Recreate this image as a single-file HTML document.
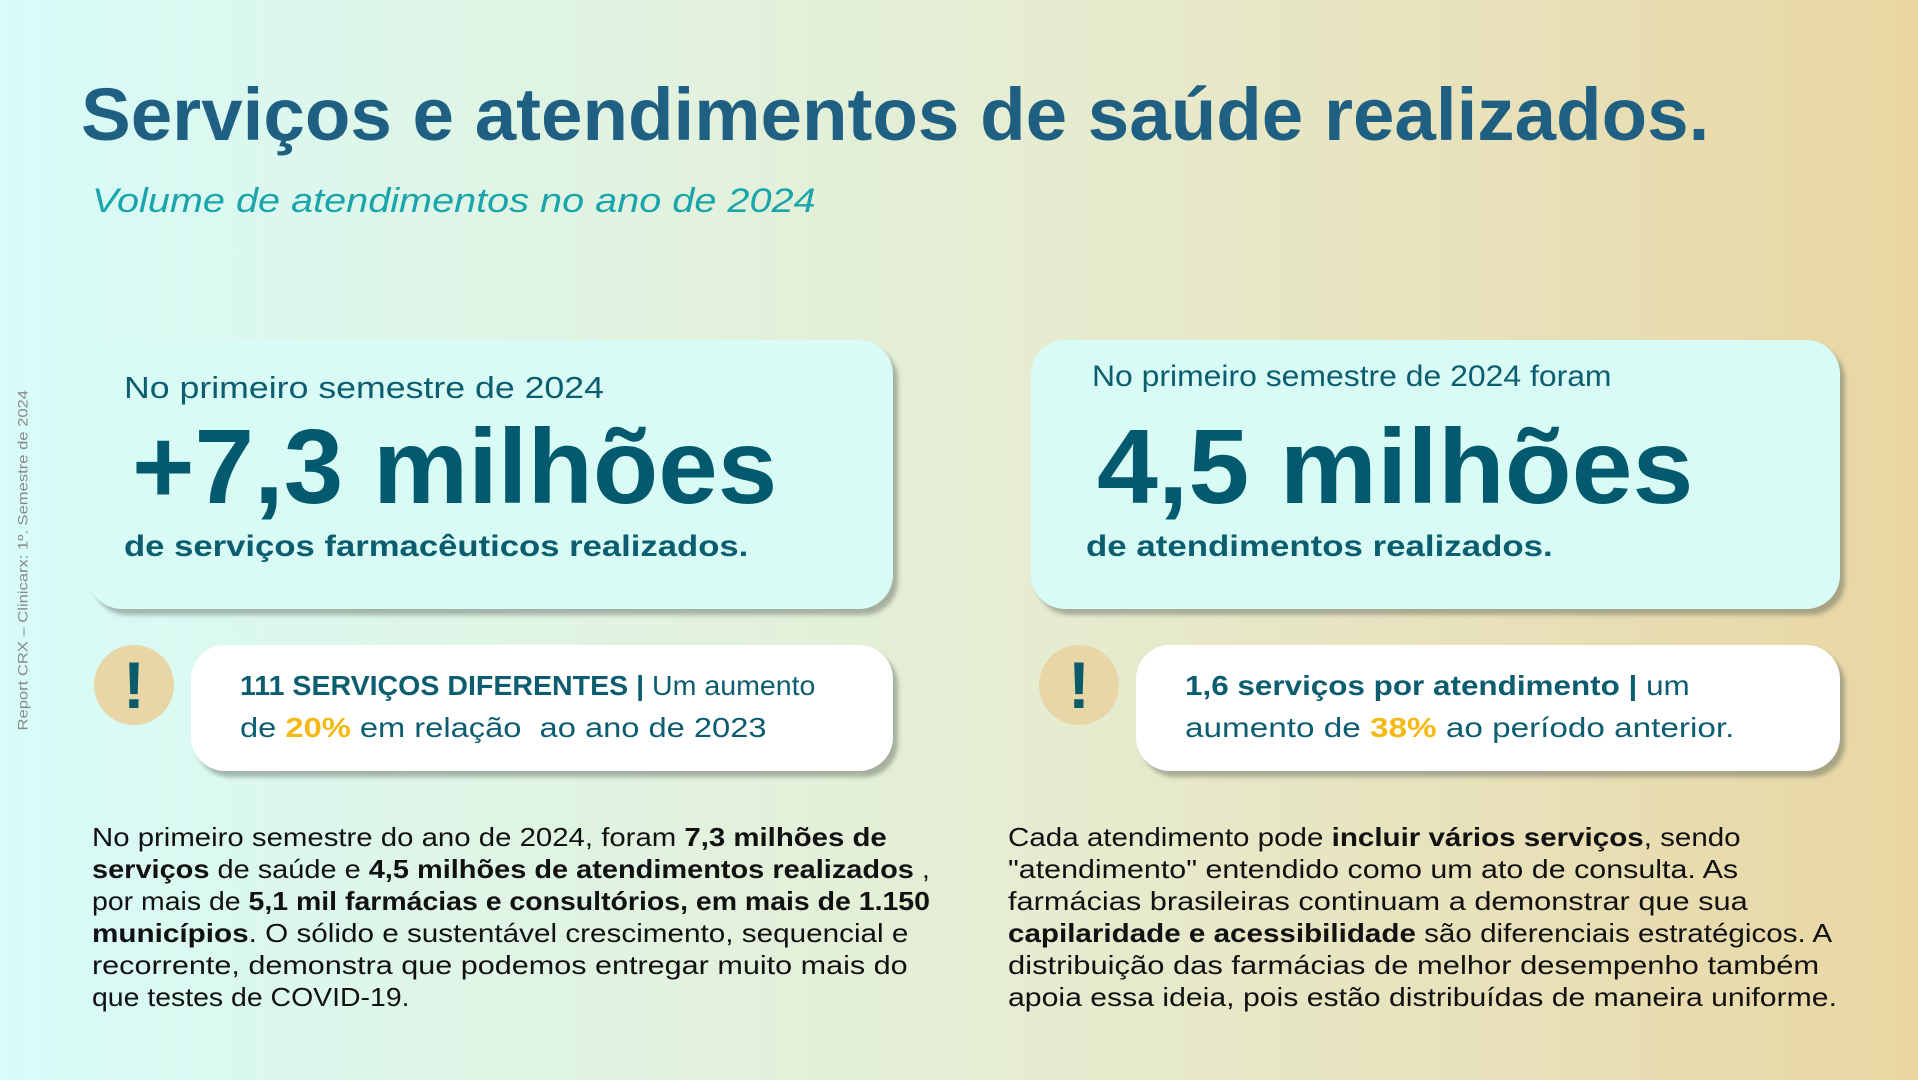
<!DOCTYPE html>
<html><head><meta charset="utf-8">
<style>
html,body{margin:0;padding:0}
body{width:1918px;height:1080px;overflow:hidden;position:relative;font-family:"Liberation Sans",sans-serif;
background:linear-gradient(90deg,#d7fcf9 0%,#dff5e6 25%,#e6ecd0 55%,#e8e0b8 80%,#e9d6a2 100%);}
.abs{position:absolute;white-space:nowrap}
.fit{display:inline-block;transform-origin:0 50%}
.card{position:absolute;background:#d8fbf6;border-radius:34px;box-shadow:5px 6px 4px rgba(90,100,90,.45)}
.wcard{position:absolute;background:#fff;border-radius:34px;box-shadow:5px 6px 4px rgba(90,100,90,.45)}
.icon{position:absolute;width:80px;height:80px;border-radius:50%;background:#e8d6a6;color:#0b5b6b;font-weight:bold;font-size:66px;text-align:center;line-height:80px}
.teal{color:#0d5d70}
.big{color:#035a6e;font-weight:bold}
.y{color:#f5b914;font-weight:bold}
.p{font-size:26px;color:#111;line-height:32px}
</style></head><body>
<div class="abs" style="left:81px;top:72px;font-size:74px;font-weight:bold;color:#1f5f82"><span class="fit" data-w="1628">Serviços e atendimentos de saúde realizados.</span></div>
<div class="abs" style="left:92px;top:182px;font-size:34px;font-style:italic;color:#1aa4ab"><span class="fit" data-w="724">Volume de atendimentos no ano de 2024</span></div>
<div class="abs" style="left:22px;top:560px;width:0;height:0">
<div style="position:absolute;left:0;top:0;width:341px;height:18px;margin-left:-170px;margin-top:-9px;transform:rotate(-90deg);font-size:14px;line-height:18px;color:#888;text-align:left"><span class="fit" data-w="341">Report CRX – Clinicarx: 1º. Semestre de 2024</span></div></div>

<div class="card" style="left:88px;top:340px;width:805px;height:269px"></div>
<div class="abs teal" style="left:124px;top:370px;font-size:31px"><span class="fit" data-w="480">No primeiro semestre de 2024</span></div>
<div class="abs big" style="left:132px;top:407px;font-size:106px;line-height:120px"><span class="fit" data-w="645">+7,3 milhões</span></div>
<div class="abs teal" style="left:124px;top:530px;font-size:30px;font-weight:bold"><span class="fit" data-w="624">de serviços farmacêuticos realizados.</span></div>

<div class="card" style="left:1031px;top:340px;width:809px;height:269px"></div>
<div class="abs teal" style="left:1092px;top:360px;font-size:30px"><span class="fit" data-w="520">No primeiro semestre de 2024 foram</span></div>
<div class="abs big" style="left:1097px;top:407px;font-size:106px;line-height:120px"><span class="fit" data-w="596">4,5 milhões</span></div>
<div class="abs teal" style="left:1086px;top:530px;font-size:30px;font-weight:bold"><span class="fit" data-w="467">de atendimentos realizados.</span></div>

<div class="icon" style="left:94px;top:645px">!</div>
<div class="wcard" style="left:191px;top:645px;width:702px;height:126px"></div>
<div class="abs teal" style="left:240px;top:670px;font-size:28px"><span class="fit" data-w="575"><b>111 SERVIÇOS DIFERENTES |</b> Um aumento</span></div>
<div class="abs teal" style="left:240px;top:712px;font-size:28px"><span class="fit" data-w="526">de <span class="y">20%</span> em relação&nbsp; ao ano de 2023</span></div>

<div class="icon" style="left:1039px;top:645px">!</div>
<div class="wcard" style="left:1136px;top:645px;width:704px;height:126px"></div>
<div class="abs teal" style="left:1185px;top:670px;font-size:28px"><span class="fit" data-w="505"><b>1,6 serviços por atendimento |</b> um</span></div>
<div class="abs teal" style="left:1185px;top:712px;font-size:28px"><span class="fit" data-w="549">aumento de <span class="y">38%</span> ao período anterior.</span></div>

<div class="abs p" style="left:92px;top:821px">
<div><span class="fit" data-w="795">No primeiro semestre do ano de 2024, foram <b>7,3 milhões de</b></span></div>
<div><span class="fit" data-w="838"><b>serviços</b> de saúde e <b>4,5 milhões de atendimentos realizados</b> ,</span></div>
<div><span class="fit" data-w="838">por mais de <b>5,1 mil farmácias e consultórios, em mais de 1.150</b></span></div>
<div><span class="fit" data-w="816"><b>municípios</b>. O sólido e sustentável crescimento, sequencial e</span></div>
<div><span class="fit" data-w="816">recorrente, demonstra que podemos entregar muito mais do</span></div>
<div><span class="fit" data-w="317">que testes de COVID-19.</span></div>
</div>
<div class="abs p" style="left:1008px;top:821px">
<div><span class="fit" data-w="733">Cada atendimento pode <b>incluir vários serviços</b>, sendo</span></div>
<div><span class="fit" data-w="730">"atendimento" entendido como um ato de consulta. As</span></div>
<div><span class="fit" data-w="740">farmácias brasileiras continuam a demonstrar que sua</span></div>
<div><span class="fit" data-w="824"><b>capilaridade e acessibilidade</b> são diferenciais estratégicos. A</span></div>
<div><span class="fit" data-w="811">distribuição das farmácias de melhor desempenho também</span></div>
<div><span class="fit" data-w="829">apoia essa ideia, pois estão distribuídas de maneira uniforme.</span></div>
</div>
<script>
document.querySelectorAll('.fit').forEach(function(el){
  var w=el.offsetWidth;var t=+el.getAttribute('data-w');
  if(w>0&&t)el.style.transform='scaleX('+(t/w)+')';
});
</script>
</body></html>
